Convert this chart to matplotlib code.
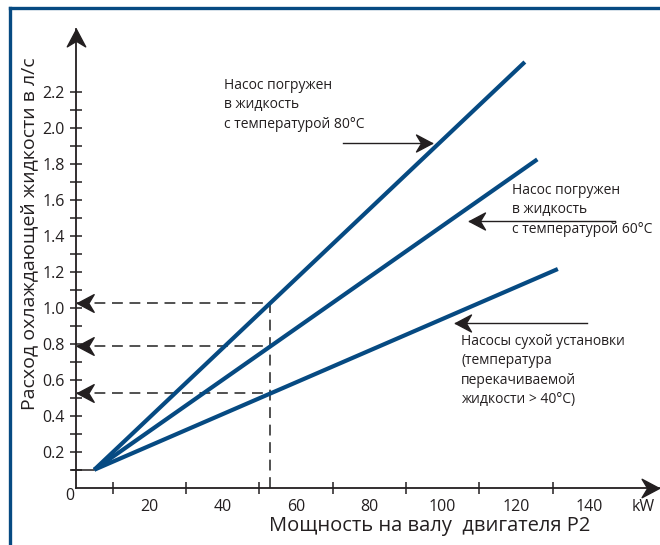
import numpy as np
import matplotlib
matplotlib.use("Agg")
import matplotlib.pyplot as plt
from matplotlib.path import Path
from matplotlib.lines import Line2D

plt.rcParams['font.family'] = ['Open Sans', 'DejaVu Sans']

# data (kW, l/s)
x_start = 5
y_start = 0.1
labels = ["80°C", "60°C", "dry"]
x_end = [122.4, 125.8, 131.4]
y_end = [2.365, 1.824, 1.215]
p2_reading = 53  # kW, dashed reading line

x_ticks_labeled = [20, 40, 60, 80, 100, 120, 140]
x_ticks_minor = [10, 20, 30, 40, 50, 60, 70, 80, 90, 100, 110, 120, 130]
y_ticks_labeled = [0.2, 0.4, 0.6, 0.8, 1.0, 1.2, 1.4, 1.6, 1.8, 2.0, 2.2]
y_ticks_minor = [0.1, 0.3, 0.5, 0.7, 0.9, 1.1, 1.3, 1.5, 1.7, 1.9, 2.1]

blue = "#064a82"
ink = "#231f20"
W, H = 660, 545

fig = plt.figure(figsize=(6.6, 5.45), dpi=100)
# axes: x=0 at px 76, y=0 at px 487.7, 3.667 px/kW, 180 px per l/s
ax = fig.add_axes([76 / W, (H - 487.7) / H, 583 / W, 459 / H])
ax.set_xlim(0, 583 / 3.667)
ax.set_ylim(0, 459 / 180)


def px(x):
    return (x - 76) / 3.667


def py(y):
    return (487.7 - y) / 180


def stealth(angle_deg):
    v = np.array([(0, 0), (-0.53, -1), (0, -0.68), (0.53, -1), (0, 0)])
    a = np.radians(angle_deg)
    r = np.array([[np.cos(a), -np.sin(a)], [np.sin(a), np.cos(a)]])
    v = v @ r.T
    return Path(v, [Path.MOVETO, Path.LINETO, Path.LINETO, Path.LINETO, Path.CLOSEPOLY])


UP, RIGHT, LEFT = stealth(0), stealth(-90), stealth(90)

for s in ["top", "right"]:
    ax.spines[s].set_visible(False)
for s in ["left", "bottom"]:
    ax.spines[s].set_linewidth(1.3)
    ax.spines[s].set_color(ink)

ax.set_xticks(x_ticks_labeled)
ax.set_xticklabels([str(v) for v in x_ticks_labeled])
ax.set_xticks(x_ticks_minor, minor=True)
ax.set_yticks(y_ticks_labeled)
ax.set_yticklabels(["%.1f" % v for v in y_ticks_labeled])
ax.set_yticks(y_ticks_minor, minor=True)
ax.tick_params(axis="x", which="major", length=0, pad=8, labelsize=11.5, colors=ink)
ax.tick_params(axis="x", which="minor", direction="inout", length=8, width=1.1, color=ink)
ax.tick_params(axis="y", which="both", direction="inout", length=8, width=1.1, pad=4,
               labelsize=11.5, colors=ink)

# axis arrow heads
ax.plot([0], [ax.get_ylim()[1]], marker=UP, ms=25, color=ink, clip_on=False)
ax.plot([ax.get_xlim()[1]], [0], marker=RIGHT, ms=25, color=ink, clip_on=False)

# short line at 0.1 up to the start point
ax.plot([-1, x_start], [y_start, y_start], color=ink, lw=1.1, clip_on=False)

# dashed reading lines
readings = [np.interp(p2_reading, [x_start, xe], [y_start, ye]) for xe, ye in zip(x_end, y_end)]
ax.plot([p2_reading, p2_reading], [0, max(readings)], color="#333333", lw=1.2,
        dashes=(6.5, 4), zorder=1)
for r in readings:
    ax.plot([0.3, p2_reading], [r, r], color="#333333", lw=1.2, dashes=(6.5, 4), zorder=1)
    ax.plot([0.2], [r], marker=LEFT, ms=24, color=ink, clip_on=False)

# series lines
for xe, ye in zip(x_end, y_end):
    ax.plot([x_start, xe], [y_start, ye], color=blue, lw=3.0, solid_capstyle="butt", zorder=3)

# annotations
tkw = dict(fontsize=10, color=ink, va="top", ha="left", linespacing=1.4)
ax.text(px(224), py(78), "Насос погружен\nв жидкость\nс температурой 80°C", **tkw)
ax.text(px(512), py(183), "Насос погружен\nв жидкость\nс температурой 60°C", **tkw)
ax.text(px(461), py(334), "Насосы сухой установки\n(температура\nперекачиваемой\nжидкости > 40°C)", **tkw)

ax.plot([px(343), px(432)], [py(142.7), py(142.7)], color=ink, lw=1.0)
ax.plot([px(432)], [py(142.7)], marker=RIGHT, ms=23, color=ink)
ax.plot([px(615), px(469)], [py(220.7), py(220.7)], color=ink, lw=1.0)
ax.plot([px(469)], [py(220.7)], marker=LEFT, ms=23, color=ink)
ax.plot([px(587), px(455)], [py(323.3), py(323.3)], color=ink, lw=1.0)
ax.plot([px(455)], [py(323.3)], marker=LEFT, ms=23, color=ink)

ax.text(px(70), py(496), "0", fontsize=11.5, color=ink, ha="center", va="center")
ax.text(px(643), py(507), "kW", fontsize=11.5, color=ink, ha="center", va="center")

fig.text(430 / W, 1 - 526 / H, "Мощность на валу  двигателя Р2", fontsize=14.5,
         color=ink, ha="center", va="center")
fig.text(29 / W, 1 - 234 / H, "Расход охлаждающей жидкости в л/с", fontsize=14,
         color=ink, ha="center", va="center", rotation=90)

# frame on left and top
fig.add_artist(Line2D([10 / W, 10 / W], [0, 1 - 8 / H], color=blue, lw=2.4))
fig.add_artist(Line2D([10 / W, 1], [1 - 8 / H, 1 - 8 / H], color=blue, lw=2.4))

fig.savefig("out.png", dpi=100)
